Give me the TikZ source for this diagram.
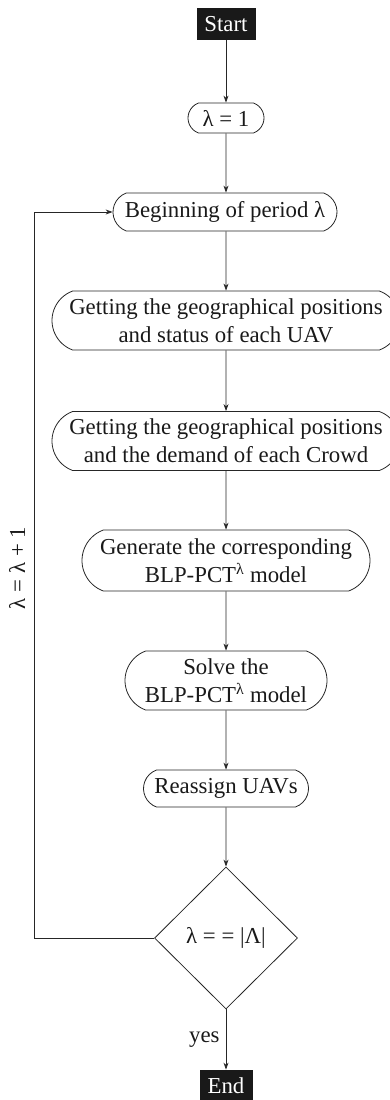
\documentclass[tikz,border=0pt]{standalone}
\usepackage{fontspec}
\setmainfont{Liberation Serif}
\usetikzlibrary{shapes.misc,shapes.geometric,arrows.meta}
\begin{document}
\begin{tikzpicture}[x=1pt,y=-1pt,
  font=\fontsize{22.8}{28}\selectfont,
  line width=0.8pt,
  draw=black!85, text=black!90,
  terminal/.style={rectangle, fill=black!90, text=white, inner sep=0pt},
  procbox/.style={draw, rounded rectangle, rounded rectangle arc length=140,
    inner sep=0pt, align=center},
  decision/.style={draw, diamond, aspect=1, inner sep=0pt},
  arr/.style={-{Stealth[length=7pt,width=5pt]}}
]
\useasboundingbox (0,0) rectangle (390,1100);

% main column of the flow chart
\node[terminal, minimum width=59pt, minimum height=32pt] (start) at (226,24) {Start};
\node[procbox, minimum width=76pt, minimum height=30pt] (init) at (226,118) {λ = 1};
\node[procbox, minimum width=224pt, minimum height=38pt] (begin) at (225,212) {Beginning of period λ};
\node[procbox, minimum width=348pt, minimum height=59pt] (uav) at (226,320.5)
  {Getting the geographical positions\\and status of each UAV};
\node[procbox, minimum width=348pt, minimum height=59pt] (crowd) at (226,441)
  {Getting the geographical positions\\and the demand of each Crowd};
\node[procbox, minimum width=288pt, minimum height=61pt] (gen) at (226,560.5)
  {Generate the corresponding\\BLP-PCT\textsuperscript{λ} model};
\node[procbox, minimum width=202pt, minimum height=59pt] (solve) at (226,680.5)
  {Solve the\\BLP-PCT\textsuperscript{λ} model};
\node[procbox, minimum width=165pt, minimum height=37pt] (reassign) at (226,788.5) {Reassign UAVs};
\node[decision, minimum width=143pt, minimum height=142pt] (dec) at (226,938) {λ = = |Λ|};
\node[terminal, minimum width=53pt, minimum height=32pt] (end) at (226,1086) {End};

% corner of the feedback loop
\coordinate (L) at (34,212);

\draw[arr] (start.south) -- (start.south |- init.north);
\draw[arr] (init) -- (init.south |- begin.north);
\draw[arr] (begin.south -| init.south) -- (uav);
\draw[arr] (uav) -- (crowd);
\draw[arr] (crowd) -- (gen);
\draw[arr] (gen) -- (solve);
\draw[arr] (solve) -- (reassign);
\draw[arr] (reassign) -- (dec);
\draw[arr] (dec) -- node[left, inner sep=6pt] (yes) {yes} (end);
\draw[arr] (dec.west) -| (L) -- (begin.west);

\node[rotate=90] (inc) at (17,568) {λ = λ + 1};
\end{tikzpicture}
\end{document}
